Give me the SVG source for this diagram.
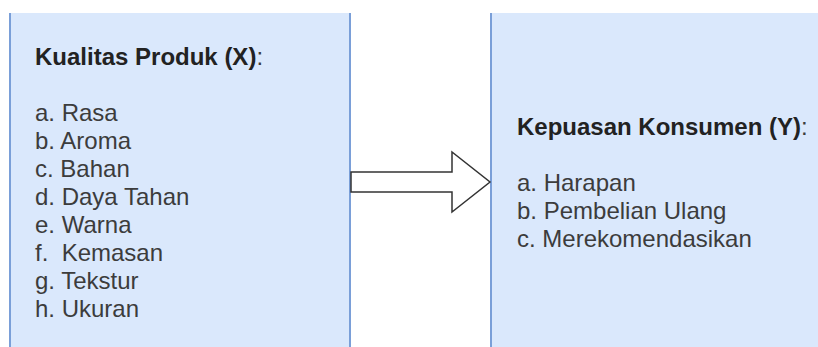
<svg xmlns="http://www.w3.org/2000/svg" width="818" height="347" viewBox="0 0 818 347">
<style>
.box{fill:#dae8fc;stroke:none}
.edge{stroke:#7a9fd8;stroke-width:2;fill:none}
text{font-family:"Liberation Sans",Arial,sans-serif;font-size:24px;fill:#3c3c3c;white-space:pre}
.b{font-weight:bold;fill:#222}
.arrow{fill:#ffffff;stroke:#333333;stroke-width:1.5;stroke-linejoin:miter}
</style>
<rect width="818" height="347" fill="#ffffff"/>
<g id="node-x">
<rect class="box" x="10" y="13" width="340" height="340"/>
<line class="edge" x1="10" y1="13" x2="10" y2="347"/>
<line class="edge" x1="350" y1="13" x2="350" y2="347"/>
<text x="35" y="65"><tspan class="b">Kualitas Produk (X)</tspan>:</text>
<text x="35" y="121">a. Rasa</text>
<text x="35" y="149">b. Aroma</text>
<text x="35" y="177">c. Bahan</text>
<text x="35" y="205">d. Daya Tahan</text>
<text x="35" y="233">e. Warna</text>
<text x="35" y="261" xml:space="preserve">f.  Kemasan</text>
<text x="35" y="289">g. Tekstur</text>
<text x="35" y="317">h. Ukuran</text>
</g>
<g id="node-y">
<rect class="box" x="491" y="13" width="327" height="340"/>
<line class="edge" x1="491" y1="13" x2="491" y2="347"/>
<text x="517" y="135"><tspan class="b">Kepuasan Konsumen (Y)</tspan>:</text>
<text x="517" y="191">a. Harapan</text>
<text x="517" y="219">b. Pembelian Ulang</text>
<text x="517" y="247">c. Merekomendasikan</text>
</g>
<g id="connectors">
<polygon class="arrow" points="351,172 452,172 452,152 490,182 452,212 452,192 351,192"/>
</g>
</svg>
